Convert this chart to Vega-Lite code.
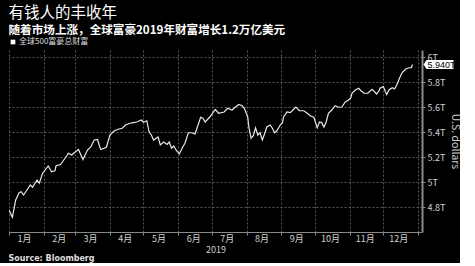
{
  "$schema": "https://vega.github.io/schema/vega-lite/v6.json",
  "background": "#000000",
  "padding": {"left": 8, "top": 5, "right": 0, "bottom": 0},
  "title": {
    "text": "有钱人的丰收年",
    "subtitle": "随着市场上涨，全球富豪2019年财富增长1.2万亿美元",
    "anchor": "start",
    "color": "#ffffff",
    "fontSize": 15.5,
    "fontWeight": "normal",
    "font": "Noto Sans CJK SC",
    "subtitleFont": "Noto Sans CJK SC",
    "subtitleColor": "#ffffff",
    "subtitleFontSize": 11.6,
    "subtitleFontWeight": "bold",
    "subtitlePadding": 4,
    "lineHeight": 17,
    "subtitleLineHeight": 13,
    "offset": 1
  },
  "vconcat": [
    {
      "width": 413,
      "height": 182,
      "title": {
        "text": "Source: Bloomberg",
        "orient": "bottom",
        "anchor": "start",
        "color": "#dddddd",
        "fontSize": 8,
        "fontWeight": "bold",
        "font": "DejaVu Sans",
        "offset": 1
      },
      "encoding": {
        "x": {
          "field": "date",
          "type": "temporal",
          "scale": {
            "type": "utc",
            "domain": [
              {"year": 2019, "month": 1, "date": 1, "utc": true},
              {"year": 2020, "month": 1, "date": 4, "hours": 12, "utc": true}
            ]
          },
          "axis": {
            "title": "2019",
            "grid": true,
            "values": [
              {"year": 2019, "month": 1, "date": 1, "utc": true},
              {"year": 2019, "month": 2, "date": 1, "utc": true},
              {"year": 2019, "month": 3, "date": 1, "utc": true},
              {"year": 2019, "month": 4, "date": 1, "utc": true},
              {"year": 2019, "month": 5, "date": 1, "utc": true},
              {"year": 2019, "month": 6, "date": 1, "utc": true},
              {"year": 2019, "month": 7, "date": 1, "utc": true},
              {"year": 2019, "month": 8, "date": 1, "utc": true},
              {"year": 2019, "month": 9, "date": 1, "utc": true},
              {"year": 2019, "month": 10, "date": 1, "utc": true},
              {"year": 2019, "month": 11, "date": 1, "utc": true},
              {"year": 2019, "month": 12, "date": 1, "utc": true},
              {"year": 2020, "month": 1, "date": 1, "utc": true}
            ],
            "labelExpr": "utcyear(datum.value) > 2019 ? '' : (utcmonth(datum.value) + 1) + '月'",
            "labelOffset": 15,
            "labelAlign": "center",
            "labelFlush": false,
            "labelOverlap": false,
            "labelBound": false,
            "labelPadding": -1,
            "titlePadding": 2
          }
        },
        "y": {
          "field": "v",
          "type": "quantitative",
          "scale": {"domain": [4.6, 6.056], "nice": false, "zero": false},
          "axis": {
            "orient": "right",
            "title": "U.S. dollars",
            "grid": true,
            "values": [4.8, 5, 5.2, 5.4, 5.6, 5.8, 6],
            "labelExpr": "format(datum.value, '.1~f') + 'T'",
            "labelOverlap": false,
            "labelBound": false,
            "domainColor": "#8a8a8a",
            "domainWidth": 2,
            "titleFontSize": 10.5,
            "titlePadding": 5,
            "labelPadding": 2
          }
        }
      },
      "layer": [
        {
          "data": {
            "values": [
              {"date": "2019-01-01", "v": 4.776},
              {"date": "2019-01-04", "v": 4.718},
              {"date": "2019-01-07", "v": 4.856},
              {"date": "2019-01-10", "v": 4.914},
              {"date": "2019-01-12", "v": 4.922},
              {"date": "2019-01-14", "v": 4.896},
              {"date": "2019-01-17", "v": 4.936},
              {"date": "2019-01-20", "v": 4.976},
              {"date": "2019-01-22", "v": 4.958},
              {"date": "2019-01-26", "v": 5.016},
              {"date": "2019-01-28", "v": 4.99},
              {"date": "2019-01-31", "v": 5.07},
              {"date": "2019-02-05", "v": 5.128},
              {"date": "2019-02-08", "v": 5.082},
              {"date": "2019-02-11", "v": 5.09},
              {"date": "2019-02-12", "v": 5.13},
              {"date": "2019-02-16", "v": 5.14},
              {"date": "2019-02-20", "v": 5.19},
              {"date": "2019-02-23", "v": 5.23},
              {"date": "2019-02-26", "v": 5.216},
              {"date": "2019-03-01", "v": 5.24},
              {"date": "2019-03-04", "v": 5.26},
              {"date": "2019-03-08", "v": 5.18},
              {"date": "2019-03-12", "v": 5.256},
              {"date": "2019-03-15", "v": 5.28},
              {"date": "2019-03-18", "v": 5.336},
              {"date": "2019-03-21", "v": 5.34},
              {"date": "2019-03-23", "v": 5.28},
              {"date": "2019-03-24", "v": 5.26},
              {"date": "2019-03-27", "v": 5.27},
              {"date": "2019-03-29", "v": 5.28},
              {"date": "2019-04-01", "v": 5.376},
              {"date": "2019-04-05", "v": 5.41},
              {"date": "2019-04-09", "v": 5.424},
              {"date": "2019-04-12", "v": 5.43},
              {"date": "2019-04-15", "v": 5.456},
              {"date": "2019-04-19", "v": 5.47},
              {"date": "2019-04-22", "v": 5.475},
              {"date": "2019-04-25", "v": 5.48},
              {"date": "2019-04-29", "v": 5.496},
              {"date": "2019-05-01", "v": 5.478},
              {"date": "2019-05-04", "v": 5.49},
              {"date": "2019-05-06", "v": 5.40},
              {"date": "2019-05-08", "v": 5.376},
              {"date": "2019-05-10", "v": 5.336},
              {"date": "2019-05-14", "v": 5.36},
              {"date": "2019-05-16", "v": 5.296},
              {"date": "2019-05-19", "v": 5.32},
              {"date": "2019-05-22", "v": 5.30},
              {"date": "2019-05-24", "v": 5.32},
              {"date": "2019-05-26", "v": 5.27},
              {"date": "2019-05-28", "v": 5.288},
              {"date": "2019-05-30", "v": 5.256},
              {"date": "2019-06-02", "v": 5.224},
              {"date": "2019-06-05", "v": 5.28},
              {"date": "2019-06-07", "v": 5.31},
              {"date": "2019-06-10", "v": 5.394},
              {"date": "2019-06-13", "v": 5.394},
              {"date": "2019-06-16", "v": 5.384},
              {"date": "2019-06-21", "v": 5.518},
              {"date": "2019-06-23", "v": 5.51},
              {"date": "2019-06-25", "v": 5.48},
              {"date": "2019-06-29", "v": 5.518},
              {"date": "2019-07-04", "v": 5.58},
              {"date": "2019-07-07", "v": 5.55},
              {"date": "2019-07-12", "v": 5.56},
              {"date": "2019-07-15", "v": 5.59},
              {"date": "2019-07-19", "v": 5.576},
              {"date": "2019-07-22", "v": 5.60},
              {"date": "2019-07-25", "v": 5.62},
              {"date": "2019-07-28", "v": 5.61},
              {"date": "2019-07-30", "v": 5.59},
              {"date": "2019-08-02", "v": 5.52},
              {"date": "2019-08-03", "v": 5.44},
              {"date": "2019-08-05", "v": 5.35},
              {"date": "2019-08-07", "v": 5.37},
              {"date": "2019-08-09", "v": 5.434},
              {"date": "2019-08-11", "v": 5.376},
              {"date": "2019-08-13", "v": 5.394},
              {"date": "2019-08-15", "v": 5.336},
              {"date": "2019-08-17", "v": 5.384},
              {"date": "2019-08-19", "v": 5.44},
              {"date": "2019-08-22", "v": 5.456},
              {"date": "2019-08-24", "v": 5.43},
              {"date": "2019-08-26", "v": 5.394},
              {"date": "2019-08-28", "v": 5.41},
              {"date": "2019-08-31", "v": 5.456},
              {"date": "2019-09-02", "v": 5.475},
              {"date": "2019-09-03", "v": 5.52},
              {"date": "2019-09-06", "v": 5.56},
              {"date": "2019-09-09", "v": 5.555},
              {"date": "2019-09-14", "v": 5.60},
              {"date": "2019-09-17", "v": 5.57},
              {"date": "2019-09-21", "v": 5.57},
              {"date": "2019-09-25", "v": 5.544},
              {"date": "2019-09-27", "v": 5.528},
              {"date": "2019-09-30", "v": 5.518},
              {"date": "2019-10-03", "v": 5.434},
              {"date": "2019-10-05", "v": 5.48},
              {"date": "2019-10-07", "v": 5.475},
              {"date": "2019-10-09", "v": 5.44},
              {"date": "2019-10-11", "v": 5.48},
              {"date": "2019-10-13", "v": 5.55},
              {"date": "2019-10-16", "v": 5.576},
              {"date": "2019-10-19", "v": 5.61},
              {"date": "2019-10-22", "v": 5.598},
              {"date": "2019-10-25", "v": 5.60},
              {"date": "2019-10-28", "v": 5.64},
              {"date": "2019-10-31", "v": 5.656},
              {"date": "2019-11-02", "v": 5.674},
              {"date": "2019-11-03", "v": 5.71},
              {"date": "2019-11-06", "v": 5.736},
              {"date": "2019-11-09", "v": 5.75},
              {"date": "2019-11-11", "v": 5.73},
              {"date": "2019-11-14", "v": 5.71},
              {"date": "2019-11-17", "v": 5.71},
              {"date": "2019-11-21", "v": 5.742},
              {"date": "2019-11-25", "v": 5.704},
              {"date": "2019-11-27", "v": 5.728},
              {"date": "2019-11-28", "v": 5.75},
              {"date": "2019-12-01", "v": 5.763},
              {"date": "2019-12-03", "v": 5.72},
              {"date": "2019-12-04", "v": 5.70},
              {"date": "2019-12-06", "v": 5.736},
              {"date": "2019-12-09", "v": 5.754},
              {"date": "2019-12-11", "v": 5.744},
              {"date": "2019-12-13", "v": 5.776},
              {"date": "2019-12-16", "v": 5.842},
              {"date": "2019-12-18", "v": 5.878},
              {"date": "2019-12-21", "v": 5.904},
              {"date": "2019-12-24", "v": 5.914},
              {"date": "2019-12-26", "v": 5.914},
              {"date": "2019-12-27", "v": 5.94}
            ]
          },
          "mark": {"type": "line", "strokeWidth": 1.2, "clip": true},
          "encoding": {
            "color": {
              "datum": "全球500富豪总财富",
              "scale": {"range": ["#e8e8e8"]},
              "legend": {
                "title": null,
                "orient": "none",
                "legendX": 0,
                "legendY": -12,
                "symbolType": "square",
                "symbolSize": 22,
                "labelFontSize": 8,
                "labelColor": "#dddddd",
                "labelOffset": 2,
                "encode": {
                  "symbols": {
                    "update": {
                      "fill": {"value": "#ffffff"},
                      "stroke": {"value": "#ffffff"},
                      "strokeWidth": {"value": 0}
                    }
                  }
                }
              }
            }
          }
        },
        {
          "data": {"values": [{"date": "2019-12-27", "v": 5.94, "label": "5.940T"}]},
          "mark": {
            "type": "point",
            "shape": "M11,0L14,-4.5L41,-4.5L41,4.5L14,4.5Z",
            "size": 4,
            "filled": true,
            "fill": "#ffffff",
            "strokeWidth": 0,
            "opacity": 1,
            "clip": false
          }
        },
        {
          "data": {"values": [{"date": "2019-12-27", "v": 5.94, "label": "5.940T"}]},
          "mark": {
            "type": "text",
            "dx": 15,
            "align": "left",
            "baseline": "middle",
            "fontSize": 9,
            "font": "Liberation Sans",
            "color": "#000000",
            "clip": false
          },
          "encoding": {
            "text": {"field": "label"}
          }
        }
      ]
    }
  ],
  "config": {
    "font": "Noto Sans CJK SC",
    "view": {"stroke": null},
    "axis": {
      "domainColor": "#8a8a8a",
      "tickColor": "#8a8a8a",
      "tickSize": 3,
      "gridColor": "#5a5a5a",
      "gridDash": [2, 2],
      "gridWidth": 1,
      "labelColor": "#d0d0d0",
      "labelFontSize": 9,
      "titleColor": "#d0d0d0",
      "titleFontSize": 9,
      "titleFontWeight": "normal"
    }
  }
}
